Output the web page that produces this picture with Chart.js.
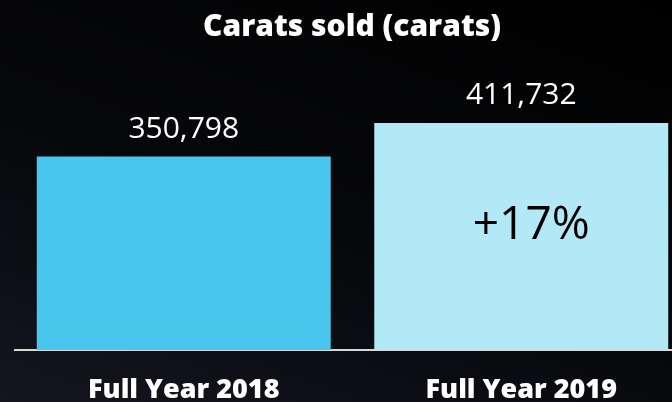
<!DOCTYPE html>
<html>
<head>
<meta charset="utf-8">
<script src="https://cdn.jsdelivr.net/npm/chart.js@4"></script>
<style>
  html, body { margin: 0; padding: 0; overflow: hidden; }
  body {
    width: 672px; height: 402px;
    background: linear-gradient(20deg, #14151f 0%, #07080b 45%, #000000 100%);
  }
  #wrap { position: relative; width: 700px; height: 402px; }
</style>
</head>
<body>
<div id="wrap"><canvas id="chart" width="700" height="402"></canvas></div>
<script>
var categories = ['Full Year 2018', 'Full Year 2019'];
var carats = [350798, 411732];
var valueLabels = ['350,798', '411,732'];
var changeLabel = '+17%';
var titleText = 'Carats sold (carats)';

var barLabels = {
    id: 'barLabels',
    afterDatasetsDraw(chart) {
        var ctx = chart.ctx;
        var meta = chart.getDatasetMeta(0);
        ctx.save();
        ctx.textAlign = 'center';
        ctx.textBaseline = 'alphabetic';
        ctx.fillStyle = '#ffffff';
        ctx.font = '500 30px "Open Sans", sans-serif';
        meta.data.forEach(function(bar, i) {
            ctx.fillText(valueLabels[i], bar.x, bar.y - 19);
        });
        // change label inside second bar
        var b2 = meta.data[1];
        ctx.fillStyle = '#000000';
        ctx.font = '500 46px "Open Sans", sans-serif';
        ctx.fillText(changeLabel, b2.x + 10, 239);
        // title
        ctx.fillStyle = '#ffffff';
        ctx.font = '800 30px "Open Sans", sans-serif';
        ctx.fillText(titleText, 352, 36);
        ctx.restore();
    }
};

new Chart(document.getElementById('chart'), {
    type: 'bar',
    data: {
        labels: categories,
        datasets: [{
            data: carats,
            backgroundColor: ['#48c6ee', '#b3e8f7'],
            borderWidth: 0,
            categoryPercentage: 1,
            barPercentage: 0.871
        }]
    },
    options: {
        responsive: false,
        animation: false,
        devicePixelRatio: 1,
        layout: { padding: { top: 60, left: 15, right: 10, bottom: 0 } },
        plugins: {
            legend: { display: false },
            tooltip: { enabled: false },
            title: { display: false }
        },
        scales: {
            x: {
                grid: { display: false, drawTicks: false },
                border: { display: true, color: '#d8d8d8', width: 2 },
                ticks: {
                    color: '#ffffff',
                    font: { family: '"Open Sans", sans-serif', size: 27, weight: '800' },
                    padding: 24
                },
                afterFit: function(scale) { scale.height = 52; }
            },
            y: {
                display: false,
                min: 0,
                max: 526000
            }
        }
    },
    plugins: [barLabels]
});
</script>
</body>
</html>
